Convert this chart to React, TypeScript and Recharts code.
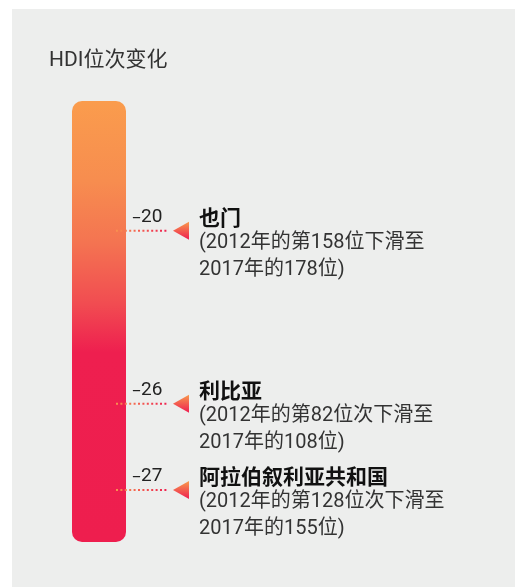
import React from 'react';
import { ComposedChart, Scatter, XAxis, YAxis, ReferenceArea } from 'recharts';

const title = 'HDI位次变化';
const countries = ['也门', '利比亚', '阿拉伯叙利亚共和国'];
const rankChanges = [-20, -26, -27];
const rank2012 = [158, 82, 128];
const rank2017 = [178, 108, 155];
const rankWord = ['位', '位次', '位次'];
const labelRows = [1.5, 3.5, 4.5];
const rowDomain: [number, number] = [0, 5.1];

const data = countries.map((name, i) => ({
  name,
  change: rankChanges[i],
  from: rank2012[i],
  to: rank2017[i],
  word: rankWord[i],
  row: labelRows[i],
  edge: 1,
}));

const LATIN = "'Liberation Sans Narrow', Roboto, 'Noto Sans CJK SC', sans-serif";
const CJK = "'Noto Sans CJK SC', sans-serif";

const ColumnShape = (p: any) => {
  const { x, y, width, height } = p;
  return (
    <g>
      <defs>
        <linearGradient id="colGrad" x1="0" y1="0" x2="0" y2="1">
          <stop offset="0" stopColor="#fa9c4d" />
          <stop offset="0.18" stopColor="#f78d4f" />
          <stop offset="0.32" stopColor="#f47451" />
          <stop offset="0.46" stopColor="#f14c51" />
          <stop offset="0.57" stopColor="#ee1f4f" />
          <stop offset="1" stopColor="#ee1e4e" />
        </linearGradient>
      </defs>
      <rect x={x} y={y} width={width} height={height} rx={10} ry={10} fill="url(#colGrad)" />
    </g>
  );
};

const Marker = (props: any) => {
  const { cx, cy, payload } = props;
  if (cx == null || cy == null || !payload) return <g />;
  const i = countries.indexOf(payload.name);
  const lg = `dotGrad${i}`;
  const tg = `triGrad${i}`;
  const tx = cx + 73;
  const sign = payload.change < 0 ? '\u2013' : '+';
  return (
    <g>
      <defs>
        <linearGradient id={lg} gradientUnits="userSpaceOnUse" x1={cx - 10} y1={cy} x2={cx + 42} y2={cy}>
          <stop offset="0" stopColor="#f8914f" />
          <stop offset="1" stopColor="#ee1f50" />
        </linearGradient>
        <linearGradient id={tg} x1="0" y1="0" x2="0" y2="1">
          <stop offset="0" stopColor="#f89a4d" />
          <stop offset="1" stopColor="#ee1d50" />
        </linearGradient>
      </defs>
      <line x1={cx - 10} x2={cx + 42} y1={cy} y2={cy} stroke={`url(#${lg})`} strokeWidth={2} strokeDasharray="2 2.4" />
      <path d={`M${cx + 47},${cy} L${cx + 63},${cy - 9} L${cx + 63},${cy + 9} Z`} fill={`url(#${tg})`} />
      <text x={cx + 6} y={cy - 9} fontFamily={LATIN} fontSize={19} fill="#222">
        <tspan fontFamily="'DejaVu Sans', sans-serif" fontSize={18}>{sign}</tspan>
        <tspan>{String(Math.abs(payload.change))}</tspan>
      </text>
      <text x={tx} y={cy - 6} fontFamily={CJK} fontWeight={700} fontSize={21} fill="#111">
        {payload.name}
      </text>
      <text x={tx} y={cy + 17} fontFamily={LATIN} fontSize={20} fill="#333">
        {`(2012年的第${payload.from}${payload.word}下滑至`}
      </text>
      <text x={tx} y={cy + 44} fontFamily={LATIN} fontSize={20} fill="#333">
        {`2017年的${payload.to}位)`}
      </text>
    </g>
  );
};

export default function App() {
  return (
    <div style={{ position: 'relative', width: 499, height: 571 }}>
      <div style={{ position: 'fixed', left: 12, top: 9, right: 0, bottom: 0, background: '#edeeed' }} />
      <svg width={499} height={80} style={{ position: 'absolute', left: 0, top: 0 }}>
        <text x={41} y={58} fontFamily={LATIN} fontSize={21} fill="#333">
          {title}
        </text>
      </svg>
      <div style={{ position: 'absolute', left: 0, top: 0 }}>
        <ComposedChart width={499} height={571} data={data} margin={{ top: 93, right: 381, bottom: 37, left: 64 }}>
          <XAxis type="number" dataKey="edge" domain={[0, 1]} hide />
          <YAxis type="number" dataKey="row" domain={rowDomain} reversed hide />
          <ReferenceArea y1={rowDomain[0]} y2={rowDomain[1]} shape={ColumnShape} ifOverflow="extendDomain" />
          <Scatter dataKey="row" isAnimationActive={false} shape={Marker} />
        </ComposedChart>
      </div>
    </div>
  );
}
